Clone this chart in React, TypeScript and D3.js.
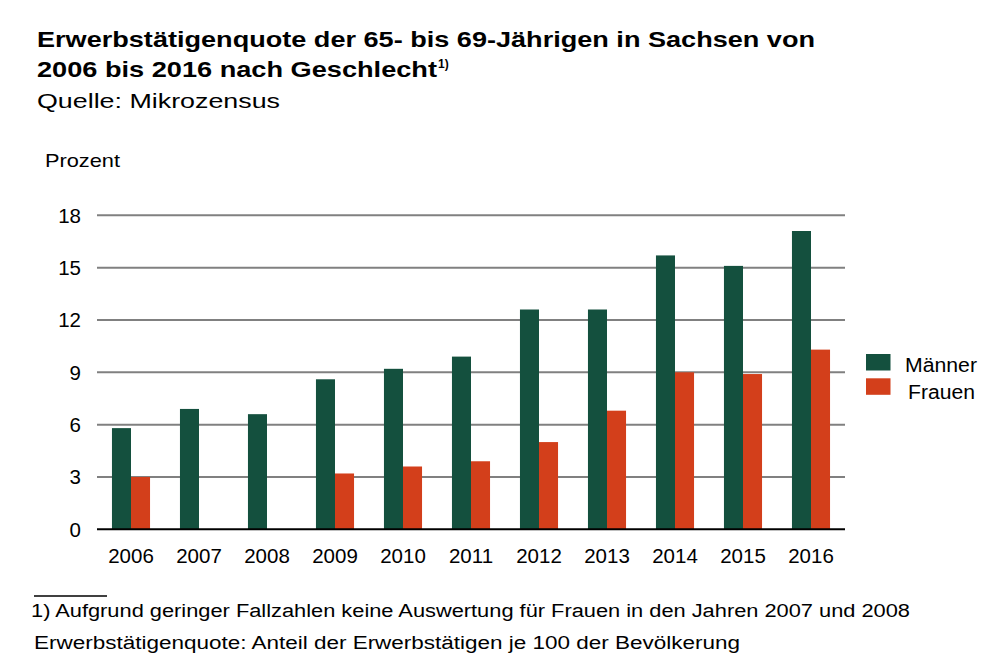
import { useRef, useEffect } from 'react';
import * as d3 from 'd3';

const years = ['2006', '2007', '2008', '2009', '2010', '2011', '2012', '2013', '2014', '2015', '2016'];
const maenner = [5.8, 6.9, 6.6, 8.6, 9.2, 9.9, 12.6, 12.6, 15.7, 15.1, 17.1];
const frauen: (number | null)[] = [3.0, null, null, 3.2, 3.6, 3.9, 5.0, 6.8, 9.0, 8.9, 10.3];
const yTicks = [0, 3, 6, 9, 12, 15, 18];
const seriesNames = ['Männer', 'Frauen'];
const colors = ['#14503e', '#d33f1b'];

const W = 1000;
const H = 669;
const FONT = '"Liberation Sans", Arial, sans-serif';

export default function App() {
    const svgRef = useRef<SVGSVGElement | null>(null);

    useEffect(() => {
        if (!svgRef.current) return;
        const svg = d3.select(svgRef.current);
        svg.selectAll('*').remove();
        svg.attr('width', W).attr('height', H).style('font-family', FONT);

        const left = 97, right = 845, top = 215.3, bottom = 529.3;

        const x = d3.scaleBand<string>()
            .domain(years)
            .range([left, right])
            .paddingInner(0.44)
            .paddingOuter(0.22);
        const xs = d3.scaleBand<string>()
            .domain(seriesNames)
            .range([0, x.bandwidth()]);
        const y = d3.scaleLinear().domain([0, 18]).range([bottom, top]);

        // gridlines
        svg.append('g')
            .selectAll('line')
            .data(yTicks.filter(t => t > 0))
            .enter().append('line')
            .attr('x1', left).attr('x2', right)
            .attr('y1', d => y(d)).attr('y2', d => y(d))
            .attr('stroke', '#808080')
            .attr('stroke-width', 2);

        // y labels
        svg.append('g')
            .selectAll('text')
            .data(yTicks)
            .enter().append('text')
            .attr('x', 81)
            .attr('y', d => y(d) + 7.5)
            .attr('text-anchor', 'end')
            .attr('font-size', 20.5)
            .attr('fill', '#000')
            .text(d => d);

        svg.append('text')
            .attr('x', 45).attr('y', 167)
            .attr('font-size', 19)
            .attr('textLength', 75).attr('lengthAdjust', 'spacingAndGlyphs')
            .text('Prozent');

        // bars
        const series = [maenner, frauen];
        series.forEach((vals, si) => {
            svg.append('g')
                .selectAll('rect')
                .data(years.map((yr, i) => ({ yr, v: vals[i] })).filter(d => d.v != null))
                .enter().append('rect')
                .attr('x', d => (x(d.yr) as number) + (xs(seriesNames[si]) as number))
                .attr('width', xs.bandwidth())
                .attr('y', d => y(d.v as number))
                .attr('height', d => bottom - y(d.v as number))
                .attr('fill', colors[si]);
        });

        // zero axis
        svg.append('line')
            .attr('x1', left).attr('x2', right)
            .attr('y1', bottom).attr('y2', bottom)
            .attr('stroke', '#000')
            .attr('stroke-width', 2);

        // x labels
        svg.append('g')
            .selectAll('text')
            .data(years)
            .enter().append('text')
            .attr('x', d => (x(d) as number) + x.bandwidth() / 2)
            .attr('y', 563)
            .attr('text-anchor', 'middle')
            .attr('font-size', 20.5)
            .text(d => d);

        // legend
        const leg = svg.append('g');
        const legText = [{ x: 905, y: 372, w: 72 }, { x: 908, y: 399, w: 67 }];
        seriesNames.forEach((name, i) => {
            leg.append('rect')
                .attr('x', 866).attr('y', 354 + i * 24.3)
                .attr('width', 24.5).attr('height', 16.5)
                .attr('fill', colors[i]);
            leg.append('text')
                .attr('x', legText[i].x).attr('y', legText[i].y)
                .attr('font-size', 19.5)
                .attr('textLength', legText[i].w).attr('lengthAdjust', 'spacingAndGlyphs')
                .text(name);
        });

        // title
        svg.append('text')
            .attr('x', 37).attr('y', 47)
            .attr('font-size', 22).attr('font-weight', 'bold')
            .attr('textLength', 778).attr('lengthAdjust', 'spacingAndGlyphs')
            .text('Erwerbstätigenquote der 65- bis 69-Jährigen in Sachsen von');
        const t2 = svg.append('text')
            .attr('x', 37).attr('y', 77)
            .attr('font-size', 22).attr('font-weight', 'bold');
        t2.append('tspan').attr('textLength', 400).attr('lengthAdjust', 'spacingAndGlyphs')
            .text('2006 bis 2016 nach Geschlecht');
        t2.append('tspan').attr('font-size', 12).attr('dy', -9).attr('dx', 1).text('1)');
        svg.append('text')
            .attr('x', 37).attr('y', 108)
            .attr('font-size', 21)
            .attr('textLength', 243).attr('lengthAdjust', 'spacingAndGlyphs')
            .text('Quelle:  Mikrozensus');

        // footnote
        svg.append('line')
            .attr('x1', 34).attr('x2', 107)
            .attr('y1', 596).attr('y2', 596)
            .attr('stroke', '#000').attr('stroke-width', 1.5);
        svg.append('text')
            .attr('x', 31).attr('y', 617)
            .attr('font-size', 18)
            .attr('textLength', 879).attr('lengthAdjust', 'spacingAndGlyphs')
            .text('1) Aufgrund geringer Fallzahlen keine  Auswertung für Frauen in den Jahren 2007 und 2008');
        svg.append('text')
            .attr('x', 34).attr('y', 649)
            .attr('font-size', 18)
            .attr('textLength', 706).attr('lengthAdjust', 'spacingAndGlyphs')
            .text('Erwerbstätigenquote: Anteil der Erwerbstätigen je 100 der Bevölkerung');
    }, []);

    return (
        <svg ref={svgRef} style={{ position: 'absolute', left: 0, top: 0, display: 'block', background: '#fff' }} />
    );
}
